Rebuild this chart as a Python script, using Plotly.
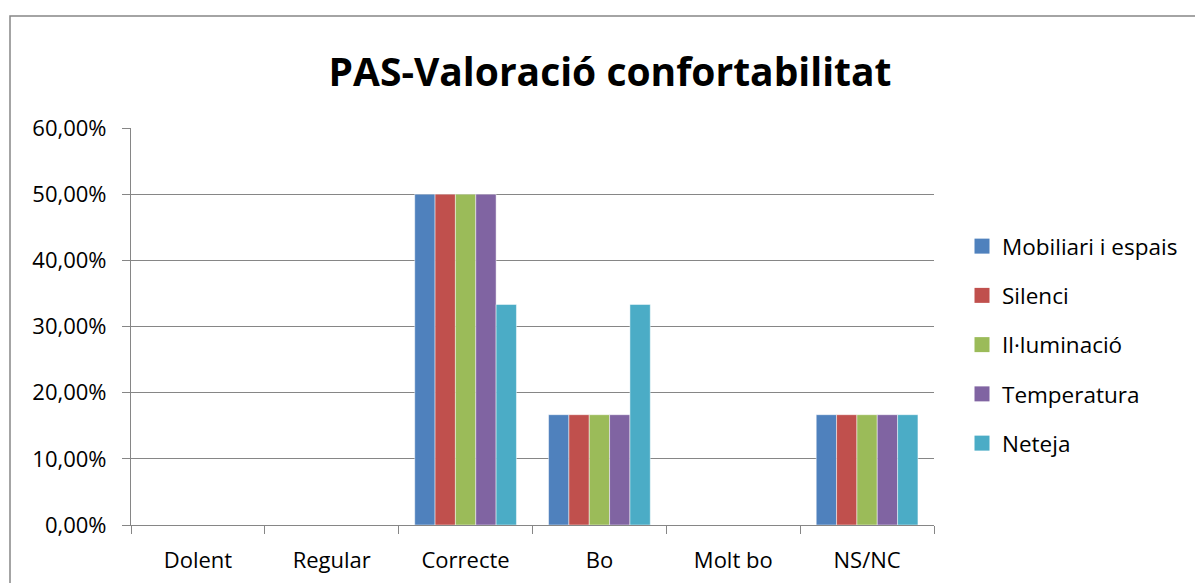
import plotly.graph_objects as go

categories = ["Dolent", "Regular", "Correcte", "Bo", "Molt bo", "NS/NC"]
series_names = ["Mobiliari i espais", "Silenci", "Il·luminació", "Temperatura", "Neteja"]
mobiliari = [0, 0, 0.5, 0.1667, 0, 0.1667]
silenci = [0, 0, 0.5, 0.1667, 0, 0.1667]
illuminacio = [0, 0, 0.5, 0.1667, 0, 0.1667]
temperatura = [0, 0, 0.5, 0.1667, 0, 0.1667]
neteja = [0, 0, 0.3333, 0.3333, 0, 0.1667]
series_values = [mobiliari, silenci, illuminacio, temperatura, neteja]
colors = ["#4F81BD", "#C0504D", "#9BBB59", "#8064A2", "#4BACC6"]
y_ticks = [0, 0.1, 0.2, 0.3, 0.4, 0.5, 0.6]

FONT = "Open Sans"

fig = go.Figure()
for name, vals, col in zip(series_names, series_values, colors):
    fig.add_trace(go.Bar(
        x=categories, y=vals, name=name, showlegend=False,
        marker=dict(color=col, line=dict(color="rgba(255,255,255,0.6)", width=0.8)),
    ))
for i, (name, col) in enumerate(zip(series_names, colors)):
    fig.add_trace(go.Scatter(
        x=[None], y=[None], mode="markers", name=name, legendgroup=f"g{i}",
        marker=dict(symbol="square", size=15, color=col),
    ))

W, H = 1195, 583
L, R, T, B = 131, 261, 128, 58
pw, ph = W - L - R, H - T - B

def px_x(p):
    return (p - L) / pw

def px_y(p):
    return (H - B - p) / ph

fig.update_layout(
    width=W, height=H,
    margin=dict(l=L, r=R, t=T, b=B, autoexpand=False),
    paper_bgcolor="white", plot_bgcolor="white",
    separators=",.",
    font=dict(family=FONT, size=22, color="#000000"),
    title=dict(text="<b>PAS-Valoració confortabilitat</b>", x=610 / W, xanchor="center",
               y=1 - 72 / H, yanchor="middle", font=dict(family=FONT, size=39, color="#000000")),
    barmode="group", bargap=0.24, bargroupgap=0,
    legend=dict(x=px_x(962), xanchor="left", y=px_y(345), yanchor="middle",
                font=dict(family=FONT, size=22.5, color="#000000"),
                tracegroupgap=17, bgcolor="rgba(0,0,0,0)", itemclick=False),
    xaxis=dict(type="category", showline=True, linecolor="#868686", linewidth=1.2,
               ticks="outside", tickson="boundaries", ticklen=8, tickcolor="#868686",
               tickwidth=1.2, showgrid=False, ticklabelstandoff=15, fixedrange=True),
    yaxis=dict(range=[0, 0.6], tickvals=y_ticks, tickformat=".2%", showline=True,
               linecolor="#868686", linewidth=1.2, ticks="outside", ticklen=8,
               tickcolor="#868686", tickwidth=1.2, showgrid=True, gridcolor="#868686",
               gridwidth=1.2, zeroline=False, ticklabelstandoff=11, fixedrange=True),
    shapes=[dict(type="rect", xref="paper", yref="paper",
                 x0=px_x(10), x1=px_x(1210), y0=px_y(16), y1=px_y(600),
                 line=dict(color="#868686", width=1.5), fillcolor="rgba(0,0,0,0)", layer="below")],
)

fig.write_html("out.html", config={"displayModeBar": False},
               post_script="document.body.style.margin='0';document.body.style.overflow='hidden';")
